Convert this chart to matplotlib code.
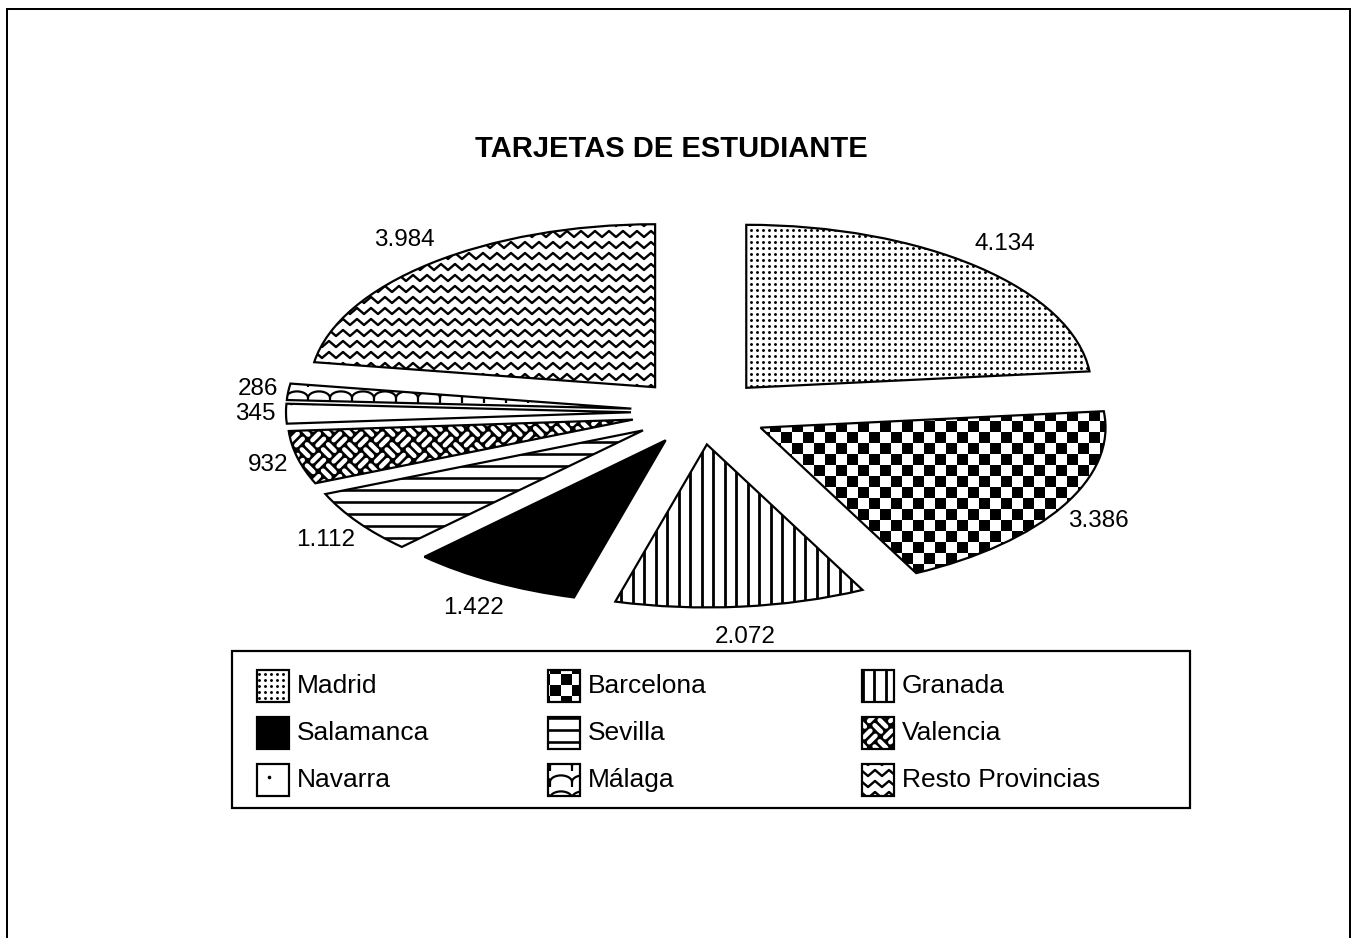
import numpy as np
import matplotlib
matplotlib.use("Agg")
import matplotlib.pyplot as plt
from matplotlib.transforms import IdentityTransform
from matplotlib.collections import LineCollection, PolyCollection
from matplotlib.patches import Rectangle, Wedge
from matplotlib.lines import Line2D

plt.rcParams['font.family'] = ['Liberation Sans', 'DejaVu Sans']

# ---------------- data ----------------
categories = ['Madrid', 'Barcelona', 'Granada', 'Salamanca', 'Sevilla',
              'Valencia', 'Navarra', 'Málaga', 'Resto Provincias']
values = [4134, 3386, 2072, 1422, 1112, 932, 345, 286, 3984]
value_labels = ['4.134', '3.386', '2.072', '1.422', '1.112', '932', '345', '286', '3.984']
patterns = ['dots', 'checker', 'vlines', 'solid', 'hlines', 'weave', 'sparse', 'scallop', 'zigzag']
title = 'TARJETAS DE ESTUDIANTE'

# ---------------- figure ----------------
W, H, DPI = 1357, 938, 100
PX = 72.0 / DPI  # points per pixel
fig = plt.figure(figsize=(W / DPI, H / DPI), dpi=DPI)
fig.patch.set_facecolor('white')

CX, CY = 700, 412      # pie centre (pixels from top)
RX, RY = 345, 163      # pie radii in pixels (flattened pie)
XL, YL = 1.9, 1.6
ax = fig.add_axes([(CX - XL * RX) / W, (H - CY - YL * RY) / H,
                   2 * XL * RX / W, 2 * YL * RY / H])
wedges, _ = ax.pie(values, explode=[0.2] * len(values), startangle=90,
                   counterclock=False, radius=1.0,
                   wedgeprops=dict(facecolor='white', edgecolor='none', linewidth=0))
ax.set_aspect('auto')
ax.set_xlim(-XL, XL)
ax.set_ylim(-YL, YL)
ax.set_autoscale_on(False)
ax.axis('off')

IDT = IdentityTransform()


def make_pattern(kind, bbox):
    x0, y0, x1, y1 = bbox
    arts = []
    if kind == 'dots':
        s = 6.0
        xs = np.arange(np.floor(x0 / s) * s + 0.5, x1 + s, s)
        ys = np.arange(np.floor(y0 / s) * s + 0.5, y1 + s, s)
        gx, gy = np.meshgrid(xs, ys)
        arts.append(Line2D(gx.ravel(), gy.ravel(), ls='none', marker='o', ms=2.9 * PX,
                           mfc='black', mec='none', transform=IDT))
    elif kind == 'sparse':
        s = 22.0
        xs = np.arange(np.floor(x0 / s) * s + 5, x1 + s, s)
        ys = np.arange(np.floor(y0 / s) * s + 7, y1 + s, s)
        gx, gy = np.meshgrid(xs, ys)
        arts.append(Line2D(gx.ravel(), gy.ravel(), ls='none', marker='o', ms=3.6 * PX,
                           mfc='black', mec='none', transform=IDT))
    elif kind == 'checker':
        s = 11.0
        i0, i1 = int(np.floor(x0 / s)), int(np.ceil(x1 / s))
        j0, j1 = int(np.floor(y0 / s)), int(np.ceil(y1 / s))
        verts = [[(i * s, j * s), ((i + 1) * s, j * s), ((i + 1) * s, (j + 1) * s), (i * s, (j + 1) * s)]
                 for i in range(i0, i1 + 1) for j in range(j0, j1 + 1) if (i + j) % 2 == 0]
        arts.append(PolyCollection(verts, facecolors='black', edgecolors='none', transform=IDT))
    elif kind == 'vlines':
        s = 11.5
        xs = np.arange(np.floor(x0 / s) * s, x1 + s, s)
        segs = [[(x, y0 - 2), (x, y1 + 2)] for x in xs]
        arts.append(LineCollection(segs, colors='black', linewidths=2.8 * PX, transform=IDT))
    elif kind == 'hlines':
        s = 12.0
        ys = np.arange(np.floor(y0 / s) * s + 4, y1 + s, s)
        segs = [[(x0 - 2, y), (x1 + 2, y)] for y in ys]
        arts.append(LineCollection(segs, colors='black', linewidths=2.6 * PX, transform=IDT))
    elif kind == 'solid':
        arts.append(PolyCollection([[(x0 - 2, y0 - 2), (x1 + 2, y0 - 2), (x1 + 2, y1 + 2), (x0 - 2, y1 + 2)]],
                                   facecolors='black', edgecolors='none', transform=IDT))
    elif kind == 'weave':
        a = 15.0
        arts.append(PolyCollection([[(x0 - 2, y0 - 2), (x1 + 2, y0 - 2), (x1 + 2, y1 + 2), (x0 - 2, y1 + 2)]],
                                   facecolors='black', edgecolors='none', transform=IDT))
        e1 = np.array([1.0, 1.0]) / np.sqrt(2)
        e2 = np.array([-1.0, 1.0]) / np.sqrt(2)
        corners = np.array([[x0, y0], [x1, y0], [x1, y1], [x0, y1]])
        pi = corners @ e1 / a
        pj = corners @ e2 / a
        segs = []
        for i in range(int(np.floor(pi.min())) - 1, int(np.ceil(pi.max())) + 2):
            for j in range(int(np.floor(pj.min())) - 1, int(np.ceil(pj.max())) + 2):
                c = (i + 0.5) * a * e1 + (j + 0.5) * a * e2
                d, n = (e1, e2) if (i + j) % 2 == 0 else (e2, e1)
                for off in (-0.24, 0.24):
                    p = c + off * a * n
                    segs.append([p - 0.3 * a * d, p + 0.3 * a * d])
        arts.append(LineCollection(segs, colors='white', linewidths=4.6 * PX,
                                   capstyle='round', transform=IDT))
    elif kind == 'scallop':
        p = 22.0
        dy = 16.0
        r = p / 2
        t = np.linspace(0, np.pi, 16)
        segs = []
        for yy in np.arange(np.floor(y0 / dy) * dy - 4, y1 + dy, dy):
            for xx in np.arange(np.floor(x0 / p) * p - p, x1 + p, p):
                segs.append(np.column_stack([xx + r + r * np.cos(t), yy + 0.6 * r * np.sin(t)]))
                segs.append(np.array([(xx, yy), (xx, yy - 5)]))
        arts.append(LineCollection(segs, colors='black', linewidths=2.2 * PX, transform=IDT))
    elif kind == 'zigzag':
        dy = 11.0
        p = 14.0
        amp = 3.0
        xs = np.arange(np.floor(x0 / p) * p - p, x1 + p, p / 2)
        k = np.arange(len(xs))
        segs = []
        for yy in np.arange(np.floor(y0 / dy) * dy - dy, y1 + dy, dy):
            ys = yy + np.where(k % 2 == 0, -amp, amp)
            segs.append(np.column_stack([xs, ys]))
        arts.append(LineCollection(segs, colors='black', linewidths=2.4 * PX, transform=IDT))
    return arts


def add_pattern(target_ax, kind, clip_patch, bbox, z):
    for art in make_pattern(kind, bbox):
        target_ax.add_artist(art)
        art.set_clip_path(clip_patch)
        art.set_zorder(z)


renderer = fig.canvas.get_renderer()
LX, LY = 1.23, 1.32   # label ring (in pie-radius units, incl. explode)

# pie patterns + outlines + value labels
for w, kind, lab in zip(wedges, patterns, value_labels):
    w.set_zorder(1)
    ext = w.get_path().transformed(w.get_transform()).get_extents()
    add_pattern(ax, kind, w, (ext.x0, ext.y0, ext.x1, ext.y1), 2)
    ax.add_patch(Wedge(w.center, w.r, w.theta1, w.theta2, fill=False,
                       edgecolor='black', linewidth=2.2 * PX, zorder=3))
    th = np.deg2rad((w.theta1 + w.theta2) / 2)
    t = ax.text(0, 0, lab, ha='center', va='center', fontsize=17.5, color='black', zorder=4)
    bb = t.get_window_extent(renderer)
    tx = (LX * RX + bb.width / 2) * np.cos(th) / RX
    ty = (LY * RY + bb.height / 2) * np.sin(th) / RY
    t.set_position((tx, ty))

# ---------------- overlay (title, legend, frame) ----------------
lax = fig.add_axes([0, 0, 1, 1], zorder=-1)
lax.set_xlim(0, W)
lax.set_ylim(H, 0)
lax.axis('off')

lax.text(671, 149, title, ha='center', va='center', fontsize=21, fontweight='bold')

# outer frame
lax.plot([7, 1350], [9, 9], color='black', lw=2 * PX)
lax.plot([7, 7], [9, H + 2], color='black', lw=2 * PX)
lax.plot([1350, 1350], [9, H + 2], color='black', lw=2 * PX)

# legend box
lax.add_patch(Rectangle((232, 651), 958, 157, fill=False, edgecolor='black', lw=2.2 * PX))
col_x = [257, 548, 862]
row_y = [686, 733, 780]
SW = 32
for idx, (cat, kind) in enumerate(zip(categories, patterns)):
    sx = col_x[idx % 3]
    cy = row_y[idx // 3]
    sw = Rectangle((sx, cy - SW / 2), SW, SW, facecolor='white', edgecolor='none', zorder=1)
    lax.add_patch(sw)
    add_pattern(lax, kind, sw, (sx, H - cy - SW / 2, sx + SW, H - cy + SW / 2), 2)
    lax.add_patch(Rectangle((sx, cy - SW / 2), SW, SW, fill=False, edgecolor='black',
                            lw=2.2 * PX, zorder=3))
    lax.text(sx + 40, cy, cat, ha='left', va='center', fontsize=19)

fig.savefig('out.png', dpi=DPI, facecolor='white')
